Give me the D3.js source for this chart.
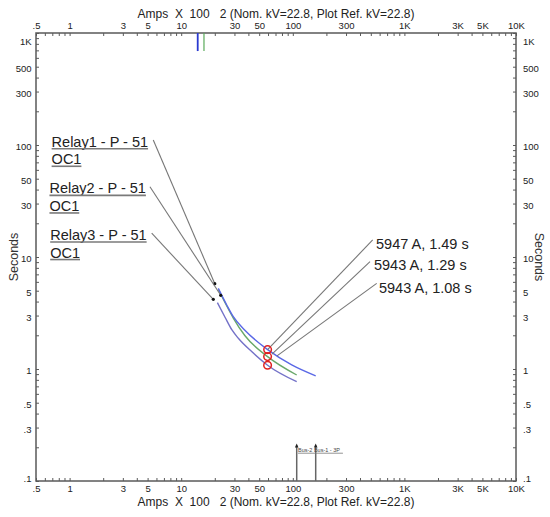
<!DOCTYPE html>
<html><head><meta charset="utf-8">
<script src="https://cdn.jsdelivr.net/npm/d3@7"></script>
<style>
html,body{margin:0;padding:0;background:#fff;}
svg{display:block;font-family:"Liberation Sans",Arial,sans-serif;}
</style></head><body>
<svg id="chart" width="550" height="517"></svg>
<script>
// ---------- data ----------
const xTickValues=[0.5,1,3,5,10,30,50,100,300,1000,3000,5000,10000];
const xTickLabels=[".5","1","3","5","10","30","50","100","300","1K","3K","5K","10K"];
const yTickValues=[1000,500,300,100,50,30,10,5,3,1,0.5,0.3,0.1];
const yTickLabels=["1K","500","300","100","50","30","10","5","3","1",".5",".3",".1"];

const relay1Amps=[21.5,25.6,29.3,37,59.47,97.8,160.4];
const relay1Secs=[5.25,3.73,2.93,2.23,1.49,1.09,0.87];
const relay2Amps=[21.6,25.6,29.3,37.3,59.43,108.4];
const relay2Secs=[5.1,3.65,2.85,1.98,1.29,0.884];
const relay3Amps=[21.1,24.7,28.5,32.5,42.8,59.43,108.4];
const relay3Secs=[3.91,2.9,2.23,1.88,1.43,1.08,0.77];

const relayNames=["Relay1 - P - 51","Relay2 - P - 51","Relay3 - P - 51"];
const relayFunctions=["OC1","OC1","OC1"];

const opAmps=[59.47,59.43,59.43];
const opSecs=[1.49,1.29,1.08];
const opLabels=["5947 A, 1.49 s","5943 A, 1.29 s","5943 A, 1.08 s"];

const faultAmps=[108.4,160.4];
const faultTopSecs=0.207;
const faultLabel="Bus-2 Bus-1 - 3P";

const inrushAmps=[14.06,16.0];
const inrushBottomSecs=690;

const xTitle="Amps  X  100   2 (Nom. kV=22.8, Plot Ref. kV=22.8)";
const yTitle="Seconds";

// annotation anchors (data units)
const relayLabelAt=[[0.69,96.6],[0.66,37.0],[0.67,14.2]];
const relayLeaderFrom=[[5.62,110.8],[5.25,42.4],[5.44,16.3]];
const relayLeaderTo=[[20.0,5.78],[22.6,4.55],[19.4,4.19]];
const opLabelAt=[[556.7,11.7],[534,7.65],[592,4.74]];
const opLeaderFrom=[[520,14.2],[492,9.08],[565,5.82]];
const opLeaderTo=[[59.47,1.49],[65.1,1.36],[72.2,1.31]];
const faultLabelAt=[111.4,0.1815];

// ---------- drawing ----------
const svg=d3.select("#chart");
const L=36,R=516,T=33,B=481;
const x=d3.scaleLog().domain([0.5,10000]).range([L,R]);
const y=d3.scaleLog().domain([0.1,1000]).range([B,T]);
const axisColor="#5a5a5a";

const minor=[];
for(let e=-1;e<=4;e++){for(let k=1;k<=9;k++){const v=k*Math.pow(10,e);if(v>=0.5-1e-9&&v<=10000+1e-9)minor.push(v);}}
const minorY=[];
for(let e=-1;e<=3;e++){for(let k=1;k<=9;k++){const v=k*Math.pow(10,e);if(v>=0.1-1e-9&&v<=1000+1e-9)minorY.push(v);}}

function tickAxis(g){g.select(".domain").remove();g.selectAll(".tick line").attr("stroke",axisColor).attr("stroke-width",1);}
svg.append("g").attr("transform",`translate(0,${T})`).call(d3.axisTop(x).tickValues(minor).tickSize(-3).tickFormat("")).call(tickAxis);
svg.append("g").attr("transform",`translate(0,${B})`).call(d3.axisBottom(x).tickValues(minor).tickSize(-3).tickFormat("")).call(tickAxis);
svg.append("g").attr("transform",`translate(${L},0)`).call(d3.axisLeft(y).tickValues(minorY).tickSize(-3).tickFormat("")).call(tickAxis);
svg.append("g").attr("transform",`translate(${R},0)`).call(d3.axisRight(y).tickValues(minorY).tickSize(-3).tickFormat("")).call(tickAxis);

function labelAxis(g){g.select(".domain").remove();g.selectAll(".tick line").remove();
  g.selectAll("text").attr("font-size",9.5).attr("fill","#222").attr("font-family","Liberation Sans, Arial, sans-serif");}
svg.append("g").attr("transform",`translate(0,${T})`).call(d3.axisTop(x).tickValues(xTickValues).tickSize(0).tickPadding(4).tickFormat((d,i)=>xTickLabels[i])).call(labelAxis);
svg.append("g").attr("transform",`translate(0,${B})`).call(d3.axisBottom(x).tickValues(xTickValues).tickSize(0).tickPadding(4.5).tickFormat((d,i)=>xTickLabels[i])).call(labelAxis);
function yShift(g){g.selectAll(".tick text").attr("y",d=>{const c=Math.min(Math.max(y(d)+1.5,41),478.5);return c-y(d);});}
svg.append("g").attr("transform",`translate(${L},0)`).call(d3.axisLeft(y).tickValues(yTickValues).tickSize(0).tickPadding(4.5).tickFormat((d,i)=>yTickLabels[i])).call(labelAxis).call(yShift);
svg.append("g").attr("transform",`translate(${R},0)`).call(d3.axisRight(y).tickValues(yTickValues).tickSize(0).tickPadding(7).tickFormat((d,i)=>yTickLabels[i])).call(labelAxis).call(yShift);

// frame
svg.append("rect").attr("x",L).attr("y",T).attr("width",R-L).attr("height",B-T)
  .attr("fill","none").attr("stroke",axisColor).attr("stroke-width",1.5);

// titles
svg.append("text").attr("x",(L+R)/2).attr("y",18).attr("text-anchor","middle").attr("font-size",12)
  .attr("fill","#222").style("white-space","pre").text(xTitle);
svg.append("text").attr("x",(L+R)/2).attr("y",506).attr("text-anchor","middle").attr("font-size",12)
  .attr("fill","#222").style("white-space","pre").text(xTitle);
svg.append("text").attr("transform",`translate(18,${(T+B)/2}) rotate(-90)`).attr("text-anchor","middle")
  .attr("font-size",12.5).attr("fill","#333").text(yTitle);
svg.append("text").attr("transform",`translate(535,${(T+B)/2}) rotate(90)`).attr("text-anchor","middle")
  .attr("font-size",12.5).attr("fill","#333").text(yTitle);

// inrush markers at top
const inrushColors=["#2a3ad0","#5aaa5a"];
const inrushWidths=[1.8,1.2];
inrushAmps.forEach((a,i)=>{
  svg.append("line").attr("x1",x(a)).attr("x2",x(a)).attr("y1",y(1000)).attr("y2",y(inrushBottomSecs))
    .attr("stroke",inrushColors[i]).attr("stroke-width",inrushWidths[i]);
});

// fault markers at bottom
faultAmps.forEach(a=>{
  svg.append("line").attr("x1",x(a)).attr("x2",x(a)).attr("y1",y(0.1)).attr("y2",y(faultTopSecs))
    .attr("stroke","#666").attr("stroke-width",1.5);
  const tx=x(a),ty=y(faultTopSecs);
  svg.append("path").attr("d",`M${tx},${ty-2} L${tx-1.8},${ty+2} L${tx+1.8},${ty+2} Z`).attr("fill","#222");
});
const fl=svg.append("text").attr("x",x(faultLabelAt[0])).attr("y",y(faultLabelAt[1])).attr("font-size",5.5)
  .attr("fill","#444").text(faultLabel);
{const w=fl.node().getComputedTextLength();
 svg.append("line").attr("x1",x(faultLabelAt[0])).attr("x2",x(faultLabelAt[0])+w+3)
  .attr("y1",y(faultLabelAt[1])+1.2).attr("y2",y(faultLabelAt[1])+1.2).attr("stroke","#777").attr("stroke-width",0.8);}

// curves
const line=d3.line().x(d=>x(d[0])).y(d=>y(d[1])).curve(d3.curveMonotoneX);
const curves=[
  {a:relay3Amps,s:relay3Secs,c:"#7472c8"},
  {a:relay2Amps,s:relay2Secs,c:"#6aa86a"},
  {a:relay1Amps,s:relay1Secs,c:"#5a68e6"}
];
curves.forEach(cv=>{
  svg.append("path").attr("d",line(cv.a.map((v,i)=>[v,cv.s[i]]))).attr("fill","none")
    .attr("stroke",cv.c).attr("stroke-width",1.4);
});

// relay labels & leaders
relayNames.forEach((n,i)=>{
  const [la,ls]=relayLabelAt[i];
  const tx=x(la),ty=y(ls);
  const t1=svg.append("text").attr("x",tx).attr("y",ty).attr("font-size",14.5).attr("fill","#222").text(n);
  const w1=t1.node().getComputedTextLength();
  svg.append("line").attr("x1",tx).attr("x2",tx+w1).attr("y1",ty+2).attr("y2",ty+2).attr("stroke","#7a7a7a").attr("stroke-width",1.6);
  const t2=svg.append("text").attr("x",tx).attr("y",ty+17.6).attr("font-size",14.5).attr("fill","#222").text(relayFunctions[i]);
  const w2=t2.node().getComputedTextLength();
  svg.append("line").attr("x1",tx).attr("x2",tx+w2).attr("y1",ty+19.6).attr("y2",ty+19.6).attr("stroke","#7a7a7a").attr("stroke-width",1.6);
  svg.append("line").attr("x1",x(relayLeaderFrom[i][0])).attr("y1",y(relayLeaderFrom[i][1]))
    .attr("x2",x(relayLeaderTo[i][0])).attr("y2",y(relayLeaderTo[i][1])).attr("stroke","#777").attr("stroke-width",1.1);
  svg.append("circle").attr("cx",x(relayLeaderTo[i][0])).attr("cy",y(relayLeaderTo[i][1])).attr("r",1.6).attr("fill","#111");
});

// operating-point labels, leaders and circles
opLabels.forEach((n,i)=>{
  svg.append("line").attr("x1",x(opLeaderFrom[i][0])).attr("y1",y(opLeaderFrom[i][1]))
    .attr("x2",x(opLeaderTo[i][0])).attr("y2",y(opLeaderTo[i][1])).attr("stroke","#777").attr("stroke-width",1.1);
  svg.append("text").attr("x",x(opLabelAt[i][0])).attr("y",y(opLabelAt[i][1])).attr("font-size",14.5)
    .attr("fill","#222").text(n);
});
opAmps.forEach((a,i)=>{
  svg.append("circle").attr("cx",x(a)).attr("cy",y(opSecs[i])).attr("r",3.8).attr("fill","none")
    .attr("stroke","#e02020").attr("stroke-width",1.5);
});
</script></body></html>
